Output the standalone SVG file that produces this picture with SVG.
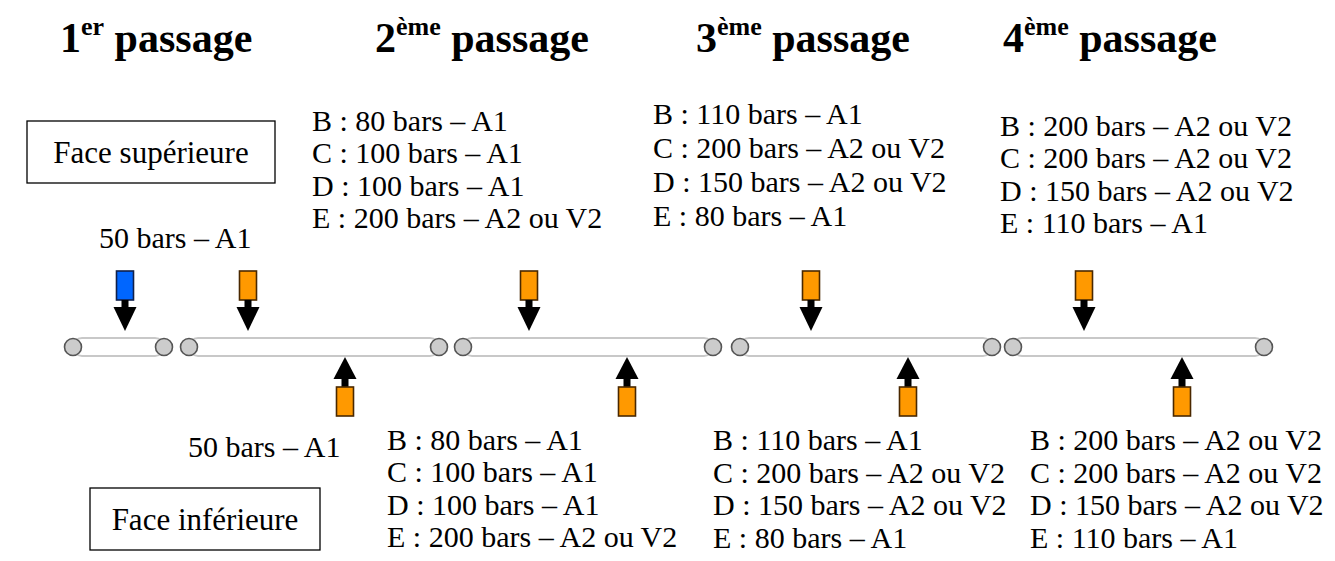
<svg xmlns="http://www.w3.org/2000/svg" width="1335" height="561" viewBox="0 0 1335 561">
<style>
.t{font-family:"Liberation Serif","Times New Roman",serif;font-size:30px;fill:#000}
.f{font-family:"Liberation Serif","Times New Roman",serif;font-size:31px;fill:#000}
.h{font-family:"Liberation Serif","Times New Roman",serif;font-size:42px;font-weight:bold;fill:#000}
.sup{font-size:26px}
.box{fill:#fff;stroke:#000;stroke-width:1.3}
.bar{fill:#fff;stroke:#c8c8c8;stroke-width:2}
.roll{fill:#cccccc;stroke:#555;stroke-width:1.6}
.blue{fill:#0066ff;stroke:#10204a;stroke-width:1.6}
.org{fill:#ff9900;stroke:#4a2800;stroke-width:1.6}
.ar{fill:#000}
</style>
<rect width="1335" height="561" fill="#fff"/>

<g id="titles">
<text class="h" x="60" y="52">1<tspan class="sup" dy="-17">er</tspan><tspan dy="17"> passage</tspan></text>
<text class="h" x="375" y="52">2<tspan class="sup" dy="-17">ème</tspan><tspan dy="17"> passage</tspan></text>
<text class="h" x="696" y="52">3<tspan class="sup" dy="-17">ème</tspan><tspan dy="17"> passage</tspan></text>
<text class="h" x="1003" y="52">4<tspan class="sup" dy="-17">ème</tspan><tspan dy="17"> passage</tspan></text>
</g>

<g id="face-sup">
<rect class="box" x="27" y="121" width="248" height="62"/>
<text class="f" x="151" y="163" text-anchor="middle">Face supérieure</text>
</g>
<g id="face-inf">
<rect class="box" x="90" y="488" width="230" height="62"/>
<text class="f" x="205" y="530" text-anchor="middle">Face inférieure</text>
</g>

<g id="labels-top">
<text class="t" x="99" y="248">50 bars – A1</text>
<text class="t" x="312" y="131">B : 80 bars – A1</text>
<text class="t" x="312" y="163">C : 100 bars – A1</text>
<text class="t" x="312" y="196">D : 100 bars – A1</text>
<text class="t" x="312" y="228">E : 200 bars – A2 ou V2</text>
<text class="t" x="653" y="124">B : 110 bars – A1</text>
<text class="t" x="653" y="158">C : 200 bars – A2 ou V2</text>
<text class="t" x="653" y="192">D : 150 bars – A2 ou V2</text>
<text class="t" x="653" y="226">E : 80 bars – A1</text>
<text class="t" x="1000" y="136">B : 200 bars – A2 ou V2</text>
<text class="t" x="1000" y="168">C : 200 bars – A2 ou V2</text>
<text class="t" x="1000" y="201">D : 150 bars – A2 ou V2</text>
<text class="t" x="1000" y="233">E : 110 bars – A1</text>
</g>

<g id="labels-bottom">
<text class="t" x="188" y="457">50 bars – A1</text>
<text class="t" x="387" y="450">B : 80 bars – A1</text>
<text class="t" x="387" y="482">C : 100 bars – A1</text>
<text class="t" x="387" y="515">D : 100 bars – A1</text>
<text class="t" x="387" y="547">E : 200 bars – A2 ou V2</text>
<text class="t" x="713" y="450">B : 110 bars – A1</text>
<text class="t" x="713" y="483">C : 200 bars – A2 ou V2</text>
<text class="t" x="713" y="515">D : 150 bars – A2 ou V2</text>
<text class="t" x="713" y="548">E : 80 bars – A1</text>
<text class="t" x="1030" y="450">B : 200 bars – A2 ou V2</text>
<text class="t" x="1030" y="483">C : 200 bars – A2 ou V2</text>
<text class="t" x="1030" y="515">D : 150 bars – A2 ou V2</text>
<text class="t" x="1030" y="548">E : 110 bars – A1</text>
</g>

<g id="rollers">
<rect class="bar" x="73" y="338" width="91" height="18" rx="9"/>
<rect class="bar" x="189" y="338" width="250" height="18" rx="9"/>
<rect class="bar" x="463" y="338" width="250" height="18" rx="9"/>
<rect class="bar" x="740" y="338" width="252" height="18" rx="9"/>
<rect class="bar" x="1013" y="338" width="251" height="18" rx="9"/>
<circle class="roll" cx="73" cy="347" r="8.5"/><circle class="roll" cx="164" cy="347" r="8.5"/>
<circle class="roll" cx="189" cy="347" r="8.5"/><circle class="roll" cx="439" cy="347" r="8.5"/>
<circle class="roll" cx="463" cy="347" r="8.5"/><circle class="roll" cx="713" cy="347" r="8.5"/>
<circle class="roll" cx="740" cy="347" r="8.5"/><circle class="roll" cx="992" cy="347" r="8.5"/>
<circle class="roll" cx="1013" cy="347" r="8.5"/><circle class="roll" cx="1264" cy="347" r="8.5"/>
</g>

<g id="connectors">
<g id="down-125"><rect class="blue" x="116.5" y="271" width="17" height="29"/><rect class="ar" x="121.5" y="300" width="7" height="8"/><polygon class="ar" points="113.5,307 136.5,307 125,331"/></g>
<g id="down-248"><rect class="org" x="239.5" y="271" width="17" height="29"/><rect class="ar" x="244.5" y="300" width="7" height="8"/><polygon class="ar" points="236.5,307 259.5,307 248,331"/></g>
<g id="down-529"><rect class="org" x="520.5" y="271" width="17" height="29"/><rect class="ar" x="525.5" y="300" width="7" height="8"/><polygon class="ar" points="517.5,307 540.5,307 529,331"/></g>
<g id="down-811"><rect class="org" x="802.5" y="271" width="17" height="29"/><rect class="ar" x="807.5" y="300" width="7" height="8"/><polygon class="ar" points="799.5,307 822.5,307 811,331"/></g>
<g id="down-1084"><rect class="org" x="1075.5" y="271" width="17" height="29"/><rect class="ar" x="1080.5" y="300" width="7" height="8"/><polygon class="ar" points="1072.5,307 1095.5,307 1084,331"/></g>
<g id="up-345"><polygon class="ar" points="345,357 333.5,379 356.5,379"/><rect class="ar" x="341.5" y="378" width="7" height="9"/><rect class="org" x="336.5" y="387" width="17" height="29"/></g>
<g id="up-627"><polygon class="ar" points="627,357 615.5,379 638.5,379"/><rect class="ar" x="623.5" y="378" width="7" height="9"/><rect class="org" x="618.5" y="387" width="17" height="29"/></g>
<g id="up-908"><polygon class="ar" points="908,357 896.5,379 919.5,379"/><rect class="ar" x="904.5" y="378" width="7" height="9"/><rect class="org" x="899.5" y="387" width="17" height="29"/></g>
<g id="up-1182"><polygon class="ar" points="1182,357 1170.5,379 1193.5,379"/><rect class="ar" x="1178.5" y="378" width="7" height="9"/><rect class="org" x="1173.5" y="387" width="17" height="29"/></g>
</g>
</svg>
